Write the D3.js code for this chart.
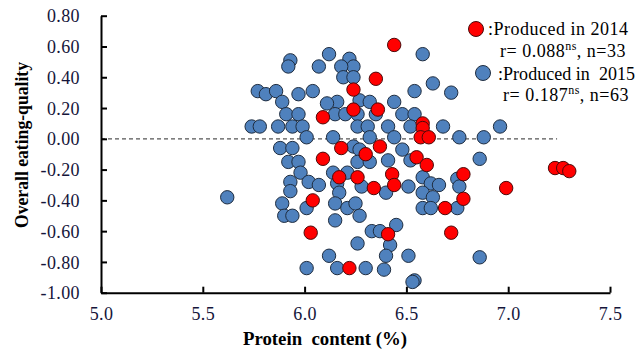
<!DOCTYPE html>
<html>
<head>
<meta charset="utf-8">
<script src="https://cdn.jsdelivr.net/npm/d3@7"></script>
<style>
  html, body { margin: 0; padding: 0; background: #fff; }
  svg { display: block; }
</style>
</head>
<body>
<svg id="chart" width="641" height="350"></svg>
<script>
// Protein content (%) vs overall eating-quality score, two harvest years
const xTicks = [5.0, 5.5, 6.0, 6.5, 7.0, 7.5];
const yTicks = [0.8, 0.6, 0.4, 0.2, 0.0, -0.2, -0.4, -0.6, -0.8, -1.0];

// Produced in 2014 : [protein, eating quality]
const produced2014 = [
  [6.44, 0.61], [6.35, 0.39], [6.24, 0.32], [6.24, 0.19], [6.36, 0.19],
  [6.09, 0.14], [6.58, 0.10], [6.58, 0.07], [6.57, 0.01], [6.61, 0.01],
  [6.18, -0.06], [6.37, -0.05], [6.30, -0.10], [6.55, -0.12], [6.60, -0.17],
  [6.09, -0.13], [6.17, -0.25], [6.26, -0.25], [6.43, -0.23], [6.34, -0.32],
  [6.44, -0.30], [6.04, -0.40], [6.03, -0.61], [6.41, -0.62], [6.22, -0.84],
  [6.78, -0.23], [6.78, -0.39], [6.69, -0.45], [6.72, -0.61], [6.99, -0.32],
  [7.23, -0.19], [7.27, -0.19], [7.30, -0.21]
];

// Produced in 2015 : [protein, eating quality]
const produced2015 = [
  [5.93, 0.51], [5.92, 0.47], [6.07, 0.47], [5.77, 0.31], [5.81, 0.29],
  [5.86, 0.31], [5.97, 0.29], [6.04, 0.31], [5.89, 0.24], [5.91, 0.16],
  [5.97, 0.16], [5.74, 0.08], [5.78, 0.08], [5.87, 0.08], [5.94, 0.08],
  [5.99, 0.08], [6.01, 0.01], [5.88, -0.06], [5.94, -0.06], [5.92, -0.15],
  [5.97, -0.15], [5.98, -0.22], [5.93, -0.28], [6.02, -0.28], [5.93, -0.34],
  [5.89, -0.42], [6.01, -0.45], [5.90, -0.50], [5.94, -0.50], [5.62, -0.38],
  [6.01, -0.84], [6.07, -0.30],
  [6.12, 0.55], [6.22, 0.52], [6.24, 0.47], [6.18, 0.47], [6.19, 0.40],
  [6.24, 0.40], [6.58, 0.55], [6.63, 0.36], [6.54, 0.31], [6.72, 0.30],
  [6.27, 0.25], [6.32, 0.24], [6.44, 0.24], [6.16, 0.24], [6.11, 0.23],
  [6.15, 0.16], [6.20, 0.16], [6.26, 0.16], [6.35, 0.16], [6.48, 0.16],
  [6.54, 0.16], [6.26, 0.08], [6.31, 0.08], [6.41, 0.08], [6.52, 0.08],
  [6.68, 0.08], [6.96, 0.08], [6.14, 0.01], [6.32, 0.01], [6.44, 0.01],
  [6.76, 0.01], [6.88, 0.01], [6.24, -0.05], [6.27, -0.07], [6.48, -0.07],
  [6.41, -0.14], [6.52, -0.14], [6.86, -0.13], [6.26, -0.15], [6.32, -0.15],
  [6.14, -0.22], [6.21, -0.22], [6.16, -0.29], [6.17, -0.35], [6.28, -0.31],
  [6.40, -0.35], [6.51, -0.31], [6.58, -0.25], [6.62, -0.29], [6.66, -0.30],
  [6.58, -0.35], [6.63, -0.38], [6.58, -0.45], [6.62, -0.45], [6.75, -0.26],
  [6.76, -0.31], [6.75, -0.45], [6.15, -0.42], [6.21, -0.45], [6.25, -0.42],
  [6.27, -0.50], [6.15, -0.53], [6.33, -0.60], [6.37, -0.60], [6.45, -0.56],
  [6.42, -0.69], [6.26, -0.68], [6.12, -0.76], [6.40, -0.76], [6.51, -0.76],
  [6.16, -0.84], [6.30, -0.84], [6.39, -0.85], [6.54, -0.92], [6.53, -0.93],
  [6.86, -0.77]
];

const legendRows = [
  { label: ":Produced in 2014", r: "0.088", n: 33 },
  { label: ":Produced in  2015", r: "0.187", n: 63 }
];

const zeroLine = { value: 0, from: 5.0, to: 7.24 };

const colors = {
  y2014: { fill: "#FF0000", stroke: "#4a0a0a" },
  y2015: { fill: "#4F81BD", stroke: "#1f2d40" }
};

const serif = "'Liberation Serif', 'Times New Roman', serif";
const svg = d3.select("#chart");

const x = d3.scaleLinear().domain([5.0, 7.5]).range([101, 610]);
const y = d3.scaleLinear().domain([-1.0, 0.8]).range([292.7, 15.7]);
const R = 6.7;

// dashed zero line
svg.append("line")
  .attr("x1", x(zeroLine.from)).attr("x2", x(zeroLine.to))
  .attr("y1", y(zeroLine.value)).attr("y2", y(zeroLine.value))
  .attr("stroke", "#555").attr("stroke-width", 1.3)
  .attr("stroke-dasharray", "4,3");

// axes
const yAxis = svg.append("g")
  .attr("transform", `translate(${x(5.0)},0)`)
  .call(d3.axisLeft(y).tickValues(yTicks).tickSizeInner(-6).tickSizeOuter(0)
    .tickPadding(21).tickFormat(d => d.toFixed(2)));

const xAxis = svg.append("g")
  .attr("transform", `translate(0,${y(-1.0)})`)
  .call(d3.axisBottom(x).tickValues(xTicks).tickSizeInner(-6).tickSizeOuter(0)
    .tickPadding(15).tickFormat(d => d.toFixed(1)));

[xAxis, yAxis].forEach(g => {
  g.select(".domain").attr("stroke", "#000").attr("stroke-width", 2);
  g.selectAll(".tick line").attr("stroke", "#000").attr("stroke-width", 2);
  g.selectAll(".tick text")
    .attr("font-family", serif).attr("font-size", 18).attr("fill", "#15153a")
    .attr("letter-spacing", 0.4);
});
yAxis.selectAll(".tick text").attr("dy", "0.34em");

// axis titles
svg.append("text")
  .attr("x", 325).attr("y", 345)
  .attr("text-anchor", "middle")
  .attr("font-family", serif).attr("font-weight", "bold").attr("font-size", 18)
  .attr("xml:space", "preserve")
  .attr("textLength", 164).attr("lengthAdjust", "spacingAndGlyphs")
  .text("Protein  content (%)");

svg.append("text")
  .attr("transform", "translate(28,145) rotate(-90)")
  .attr("text-anchor", "middle")
  .attr("font-family", serif).attr("font-weight", "bold").attr("font-size", 18)
  .attr("textLength", 166).attr("lengthAdjust", "spacingAndGlyphs")
  .text("Overall eating-quality");

// points
function drawSeries(data, c) {
  svg.append("g").selectAll("circle")
    .data(data).join("circle")
    .attr("cx", d => x(d[0])).attr("cy", d => y(d[1]))
    .attr("r", R)
    .attr("fill", c.fill).attr("stroke", c.stroke).attr("stroke-width", 1);
}
drawSeries(produced2015, colors.y2015);
drawSeries(produced2014, colors.y2014);

// legend
const legendPos = [
  { cx: 476, cy: 29, tx: 488, ty: 35, tw: 140, rx: 500, ry: 57, c: colors.y2014 },
  { cx: 483, cy: 73, tx: 498, ty: 80, tw: 137, rx: 503, ry: 101, c: colors.y2015 }
];
legendRows.forEach((row, i) => {
  const p = legendPos[i];
  svg.append("circle")
    .attr("cx", p.cx).attr("cy", p.cy).attr("r", 7.5)
    .attr("fill", p.c.fill).attr("stroke", p.c.stroke).attr("stroke-width", 1);
  svg.append("text")
    .attr("x", p.tx).attr("y", p.ty)
    .attr("font-family", serif).attr("font-size", 18)
    .attr("xml:space", "preserve")
    .attr("textLength", p.tw).attr("lengthAdjust", "spacing")
    .text(row.label);
  const t = svg.append("text")
    .attr("x", p.rx).attr("y", p.ry)
    .attr("font-family", serif).attr("font-size", 18)
    .attr("letter-spacing", 0.5);
  t.append("tspan").text(`r= ${row.r}`);
  t.append("tspan").attr("font-size", 12).attr("dy", -7).text("ns");
  t.append("tspan").attr("dy", 7).text(`, n=${row.n}`);
});
</script>
</body>
</html>
